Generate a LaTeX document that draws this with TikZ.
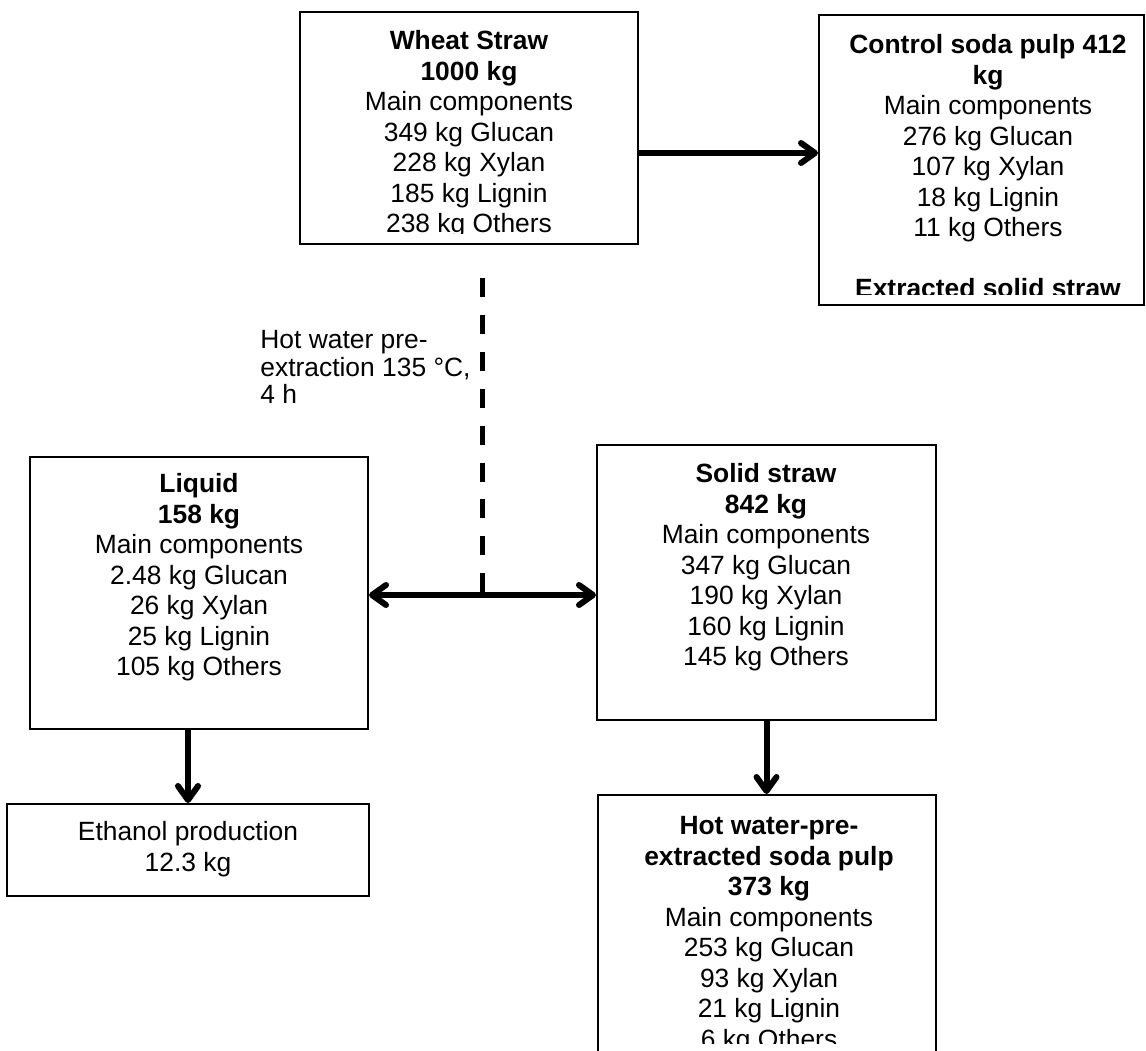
\documentclass[tikz,border=0pt]{standalone}
\usepackage{fontspec}
\setmainfont{Liberation Sans}
\usetikzlibrary{arrows.meta}
\usetikzlibrary{calc}
\tikzset{
    massbox/.style={draw, line width=1pt, inner sep=0pt},
    boxtext/.style={anchor=north, align=center, inner sep=0pt,
        font=\fontsize{13.2pt}{15.25pt}\selectfont},
    condtext/.style={anchor=north west, align=left, inner sep=0pt,
        font=\fontsize{13.2pt}{13.75pt}\selectfont},
}
\newcommand{\flowarrow}{\draw[-{Straight Barb[length=7pt,width=10pt,round]}, line width=3pt]}
\newcommand{\splitarrow}{\draw[{Straight Barb[length=7pt,width=10pt,round]}-{Straight Barb[length=7pt,width=10pt,round]}, line width=3pt]}

\begin{document}
\begin{tikzpicture}[x=0.5pt, y=-0.5pt]
    \useasboundingbox (0,0) rectangle (1146,1050);

    % Draw boxes
    \node[massbox, minimum width=169pt, minimum height=116pt] (wheat) at (469,128) {};
    \node[massbox, minimum width=162.5pt, minimum height=145pt] (ctrl) at (981.5,160) {};
    \node[massbox, minimum width=169pt, minimum height=136pt] (liquid) at (199,593) {};
    \node[massbox, minimum width=169.5pt, minimum height=137.5pt] (solid) at (766.5,582.5) {};
    \node[massbox, minimum width=181pt, minimum height=46pt] (ethanol) at (188,850) {};
    \node[massbox, minimum width=169pt, minimum height=135pt] (pulp) at (767,930) {};

    % Box texts
    \begin{scope}
        \clip (wheat.north west) rectangle ($(wheat.south east)+(0,-12)$);
        \node[boxtext] (wheattext) at (469,30) {\textbf{Wheat Straw}\\\textbf{1000 kg}\\Main components\\349 kg Glucan\\228 kg Xylan\\185 kg Lignin\\238 kg Others};
    \end{scope}
    \begin{scope}
        \clip (ctrl.north west) rectangle ($(ctrl.south east)+(0,-12)$);
        \node[boxtext] (ctrltext) at (988,34) {\textbf{Control soda pulp 412}\\\textbf{kg}\\Main components\\276 kg Glucan\\107 kg Xylan\\18 kg Lignin\\11 kg Others\\[15.25pt]\textbf{Extracted solid straw}};
    \end{scope}
    \node[boxtext] (liquidtext) at (199,473) {\textbf{Liquid}\\\textbf{158 kg}\\Main components\\2.48 kg Glucan\\26 kg Xylan\\25 kg Lignin\\105 kg Others};
    \node[boxtext] (solidtext) at (766,463) {\textbf{Solid straw}\\\textbf{842 kg}\\Main components\\347 kg Glucan\\190 kg Xylan\\160 kg Lignin\\145 kg Others};
    \node[boxtext] (ethanoltext) at (188,821) {Ethanol production\\12.3 kg};
    \begin{scope}
        \clip (pulp.north west) rectangle (940,1043);
        \node[boxtext] (pulptext) at (769,816) {\textbf{Hot water-pre-}\\\textbf{extracted soda pulp}\\\textbf{373 kg}\\Main components\\253 kg Glucan\\93 kg Xylan\\21 kg Lignin\\6 kg Others};
    \end{scope}

    % Pre-extraction step
    \coordinate (hwtop) at (482,278);
    \coordinate (split) at (482,595);
    \draw[line width=2.5pt, dash pattern=on 9.5pt off 8.95pt] (hwtop) -- (split);
    \node[condtext] (cond) at (260,330) {Hot water pre-\\extraction 135 °C,\\4 h};

    % Draw flows
    \coordinate (wc) at ($(wheat.east)+(0,25)$);
    \flowarrow (wc) -- (wc -| ctrl.west);
    \splitarrow (split -| liquid.east) -- (split -| solid.west);
    \flowarrow (ethanol.north |- liquid.south) -- (ethanol.north);
    \flowarrow (solid.south) -- (solid.south |- pulp.north);
\end{tikzpicture}
\end{document}
